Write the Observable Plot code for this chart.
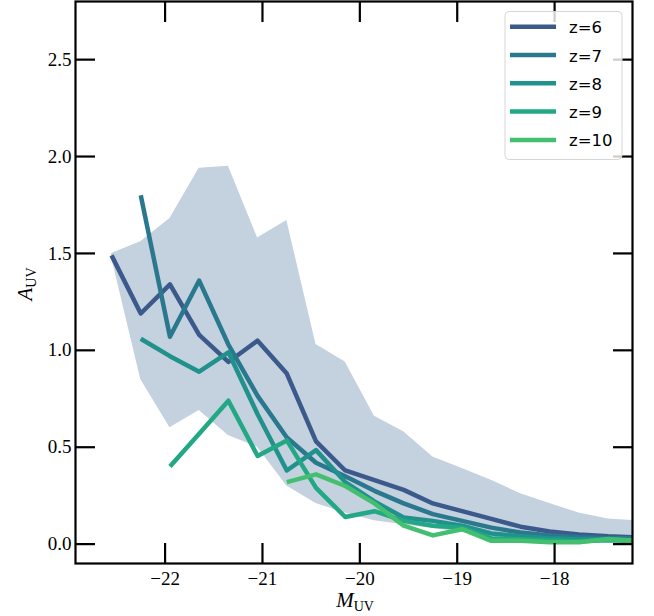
<!DOCTYPE html>
<html><head><meta charset="utf-8">
<script src="https://cdn.jsdelivr.net/npm/d3@7"></script>
<script src="https://cdn.jsdelivr.net/npm/@observablehq/plot@0.6"></script>
<style>body{margin:0;background:#fff}</style>
</head><body><div id="chart"></div>
<script>
// Magnitude bins (M_UV)
const mags = [-22.55, -22.25, -21.95, -21.65, -21.35, -21.05, -20.75, -20.45, -20.15, -19.85, -19.55, -19.25, -18.95, -18.65, -18.35, -18.05, -17.75, -17.45, -17.15];
// Shaded range (lower / upper A_UV)
const bandLo = [1.48, 0.85, 0.60, 0.69, 0.56, 0.50, 0.30, 0.21, 0.16, 0.12, 0.10, 0.08, 0.06, 0.04, 0.03, 0.02, 0.02, 0.02, 0.02];
const bandHi = [1.50, 1.56, 1.68, 1.94, 1.95, 1.58, 1.67, 1.03, 0.94, 0.66, 0.58, 0.45, 0.39, 0.33, 0.26, 0.21, 0.16, 0.13, 0.12];
// A_UV per redshift (null = no data in that bin)
const z6  = [1.49, 1.19, 1.34, 1.08, 0.94, 1.05, 0.88, 0.53, 0.38, 0.33, 0.28, 0.21, 0.17, 0.13, 0.09, 0.065, 0.05, 0.04, 0.035];
const z7  = [null, 1.80, 1.07, 1.36, 1.03, 0.765, 0.55, 0.42, 0.35, 0.275, 0.21, 0.155, 0.12, 0.085, 0.06, 0.045, 0.035, 0.03, 0.03];
const z8  = [null, 1.06, 0.97, 0.89, 0.99, 0.67, 0.38, 0.485, 0.32, 0.22, 0.137, 0.12, 0.095, 0.055, 0.04, 0.03, 0.025, 0.025, 0.02];
const z9  = [null, null, 0.40, 0.57, 0.74, 0.455, 0.535, 0.29, 0.14, 0.17, 0.12, 0.095, 0.085, 0.03, 0.025, 0.02, 0.015, 0.02, 0.015];
const z10 = [null, null, null, null, null, null, 0.32, 0.36, 0.30, 0.21, 0.095, 0.045, 0.077, 0.017, 0.017, 0.01, 0.01, 0.026, 0.017];
const seriesNames = ["z=6", "z=7", "z=8", "z=9", "z=10"];
const seriesVals = [z6, z7, z8, z9, z10];
const colors = ["#3b5a8b", "#2a788e", "#21918c", "#22a884", "#44bf70"];
const xTicks = [-22, -21, -20, -19, -18];
const yTicks = [0, 0.5, 1.0, 1.5, 2.0, 2.5];

const bandRows = mags.map((m, i) => ({m, lo: bandLo[i], hi: bandHi[i]}));
const lineRows = [];
seriesVals.forEach((arr, s) => arr.forEach((v, i) => { if (v != null) lineRows.push({m: mags[i], a: v, z: seriesNames[s]}); }));

const serif = "'Liberation Serif', 'DejaVu Serif', serif";
const chart = Plot.plot({
  width: 654, height: 616,
  marginLeft: 75, marginRight: 22, marginTop: 1, marginBottom: 53,
  style: {fontFamily: serif, fontSize: "19px", color: "#000", background: "#fff"},
  x: {domain: [-22.92, -17.2], label: null},
  y: {domain: [-0.1, 2.8], label: null},
  color: {domain: seriesNames, range: colors},
  marks: [
    Plot.areaY(bandRows, {x: "m", y1: "lo", y2: "hi", fill: "#c4d1df", clip: true}),
    ...seriesNames.map(n => Plot.line(lineRows.filter(d => d.z === n), {x: "m", y: "a", stroke: "z", strokeWidth: 4.5, strokeLinejoin: "round", strokeLinecap: "butt", clip: true})),
    Plot.axisX({anchor: "bottom", ticks: xTicks, tickSize: -20, tickPadding: 28, tickFormat: d3.format("d"), strokeWidth: 2.2, label: null, fontSize: 19}),
    Plot.axisX({anchor: "top", ticks: xTicks, tickSize: -20, tickFormat: () => "", strokeWidth: 2.2, label: null}),
    Plot.axisY({anchor: "left", ticks: yTicks, tickSize: -20, tickPadding: 24, tickFormat: d3.format(".1f"), strokeWidth: 2.2, label: null, fontSize: 19}),
    Plot.axisY({anchor: "right", ticks: yTicks, tickSize: -20, tickFormat: () => "", strokeWidth: 2.2, label: null}),
    Plot.frame({stroke: "#000", strokeWidth: 2.2})
  ]
});
document.getElementById("chart").appendChild(chart);

const svg = d3.select(chart);
// Axis titles
const xt = svg.append("text").attr("x", 355).attr("y", 607).attr("text-anchor", "middle")
  .attr("font-family", serif).attr("font-size", 21).attr("fill", "#000");
xt.append("tspan").attr("font-style", "italic").text("M");
xt.append("tspan").attr("font-size", 14).attr("dy", 4).text("UV");
const yt = svg.append("text").attr("transform", "translate(32,284) rotate(-90)").attr("text-anchor", "middle")
  .attr("font-family", serif).attr("font-size", 21).attr("fill", "#000");
yt.append("tspan").attr("font-style", "italic").text("A");
yt.append("tspan").attr("font-size", 14).attr("dy", 4).text("UV");

// Legend
const lg = svg.append("g");
lg.append("rect").attr("x", 505).attr("y", 11.5).attr("width", 117).attr("height", 148).attr("rx", 4)
  .attr("fill", "#fff").attr("fill-opacity", 0.8).attr("stroke", "#d6d6d6").attr("stroke-width", 1);
seriesNames.forEach((n, i) => {
  const y = 26.7 + 28.3 * i;
  lg.append("line").attr("x1", 510).attr("x2", 556).attr("y1", y).attr("y2", y)
    .attr("stroke", colors[i]).attr("stroke-width", 4.5);
  lg.append("text").attr("x", 569).attr("y", y + 6.5).attr("text-anchor", "start")
    .attr("font-family", "'DejaVu Sans', sans-serif")
    .attr("font-size", 16.5).attr("fill", "#000").text(n);
});
</script>
</body></html>
